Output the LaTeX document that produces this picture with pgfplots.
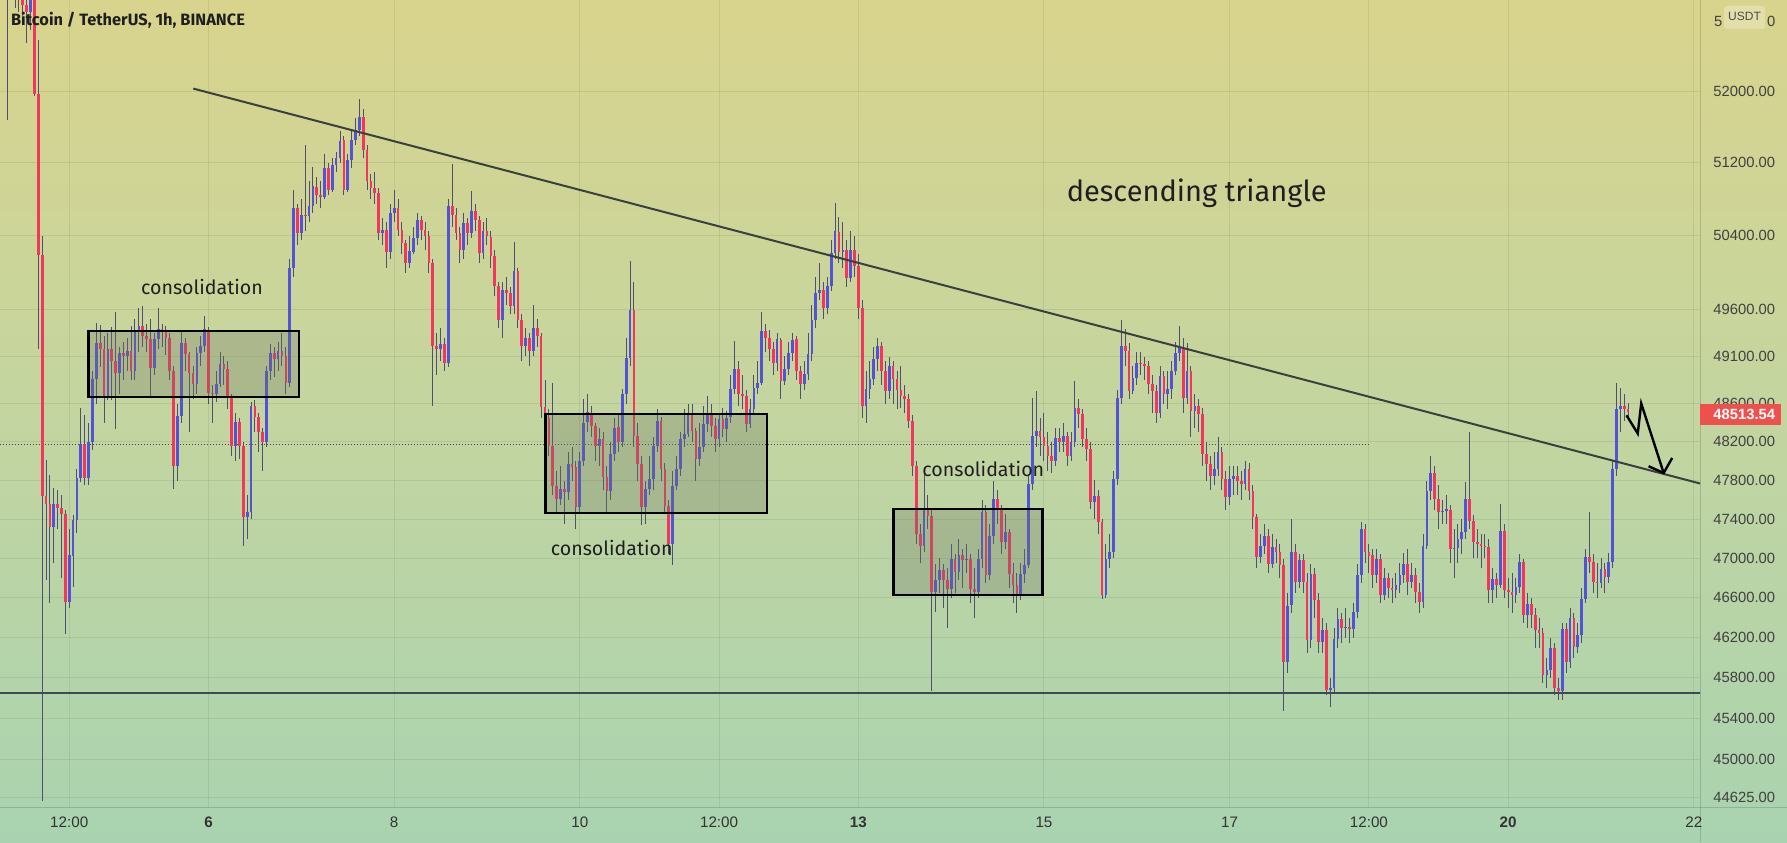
\documentclass[border=0pt]{standalone}
\usepackage{fontspec}
\setmainfont{Fira Sans}
\newfontfamily\axfont{Liberation Sans}
\usepackage{pgfplots}
\usepackage{pgfplotstable}
\pgfplotsset{compat=1.18}
\definecolor{bgtop}{RGB}{217,212,141}
\definecolor{bgmid}{RGB}{195,213,160}
\definecolor{bgbot}{RGB}{169,211,176}
\definecolor{upc}{RGB}{83,83,214}
\definecolor{dnc}{RGB}{241,56,92}
\definecolor{wickc}{RGB}{80,80,110}
\definecolor{linec}{RGB}{58,64,62}
\definecolor{suppc}{RGB}{62,74,86}
\definecolor{lblred}{RGB}{238,80,78}
\definecolor{boxc}{RGB}{110,118,100}

\pgfplotstableread{
t o h l c
-52 53200 53700 51680 53500
-49 53050 53250 52900 53150
-46 52900 53200 52700 53100
-40 47320 47720 46950 47560
-36 46560 47300 46500 47030
-35 47030 47440 46715 47390
-34 47390 47920 47260 47830
-33 47830 48560 47780 48180
-31 47830 48400 47750 48196
-30 48196 48950 48120 48858
-29 48858 49460 48600 49247
-26 48683 49350 48640 49176
-23 48929 49200 48700 49141
-21 49100 49300 48950 49158
-19 48946 49500 48850 49380
-18 49380 49620 49150 49424
-14 48982 49350 48900 49282
-13 49282 49620 49180 49389
-8 47953 48600 47800 48473
-7 48473 49380 48400 49247
-3 48805 49200 48700 49141
-2 49141 49320 49000 49211
-1 49211 49530 49150 49389
2 48700 48950 48620 48805
3 48805 49150 48780 49017
7 48161 48500 48000 48404
10 47421 47650 47200 47472
11 47472 48620 47400 48578
15 48196 49000 48150 48946
16 48946 49230 48850 49141
18 49069 49250 48950 49158
21 48823 50150 48780 50050
22 50050 50900 49950 50704
24 50430 50800 50350 50630
26 50612 51000 50550 50722
27 50722 51150 50650 50940
30 50830 51300 50800 51142
32 50904 51250 50880 51179
33 51179 51320 51100 51253
34 51253 51550 51200 51450
36 50904 51300 50880 51235
37 51235 51580 51150 51455
38 51455 51700 51400 51566
39 51566 51920 51500 51715
45 50430 50600 50300 50466
47 50230 50750 50150 50650
48 50650 50900 50550 50704
52 50104 50400 50050 50230
53 50230 50500 50200 50375
54 50375 50650 50300 50575
60 49176 49400 49050 49229
62 49034 50800 48990 50722
66 50248 50650 50150 50539
68 50430 50885 50380 50668
71 50212 50550 50150 50448
76 49495 49900 49300 49816
79 49637 50339 49550 50014
82 49211 49400 49100 49300
84 49158 49655 49100 49406
91 47609 47950 47550 47712
93 47678 48100 47600 47970
96 47523 48100 47450 48005
97 48005 48650 47950 48404
98 48404 48700 48300 48508
101 48161 48350 47950 48230
104 47695 48200 47600 48074
105 48074 48450 48000 48351
107 48196 48760 48150 48700
108 48700 49300 48600 49087
109 49087 50122 49000 49602
113 47523 47800 47350 47712
114 47712 48050 47650 47815
115 47815 48250 47700 48161
116 48161 48550 48100 48421
120 47149 47900 46930 47746
121 47746 48050 47700 47918
122 47918 48300 47850 48230
123 48230 48550 48150 48282
124 48282 48600 48250 48508
127 48022 48400 47950 48144
128 48144 48580 48100 48386
129 48386 48680 48300 48508
132 48230 48500 48150 48438
134 48334 48520 48200 48456
135 48456 48900 48400 48753
136 48753 49264 48700 48964
140 48386 48650 48350 48543
141 48543 48900 48500 48770
142 48770 49050 48700 48823
143 48823 49580 48800 49371
147 49034 49350 48950 49282
149 48840 49100 48800 48964
150 48964 49250 48900 49141
151 49141 49350 49050 49282
154 48805 49050 48750 48911
155 48911 49350 48850 49123
156 49123 49650 49050 49495
157 49495 49950 49400 49780
158 49780 50100 49700 49816
160 49620 49950 49550 49852
161 49852 50350 49800 50212
162 50212 50758 50150 50448
164 50230 50550 50050 50248
166 49942 50450 49900 50248
170 48578 48950 48400 48753
171 48753 49050 48650 48858
172 48858 49200 48800 49069
173 49069 49300 48950 49211
176 48735 49100 48650 48999
185 47131 47884 47064 47507
188 46661 46950 46460 46778
189 46778 47000 46650 46879
192 46694 47150 46600 46997
194 46862 47200 46780 47031
196 46980 47150 46850 46997
199 46661 47100 46600 46997
200 46997 47600 46900 47472
202 46829 47350 46780 47233
203 47233 47800 47150 47609
206 47165 47450 47100 47268
210 46627 46950 46580 46846
211 46846 47100 46750 46930
212 46930 47850 46900 47764
213 47764 48666 47700 48265
214 48265 48735 48150 48317
219 48005 48350 47950 48247
221 48196 48400 48100 48265
223 48056 48300 48000 48196
224 48196 48840 48150 48561
229 47575 47800 47400 47643
232 46627 47150 46600 46997
233 46997 47250 46900 47064
234 47064 47900 47000 47815
235 47815 48750 47750 48666
236 48666 49495 48600 49211
239 48735 49000 48700 48876
240 48876 49150 48800 49034
246 48508 49000 48450 48893
248 48700 48950 48550 48753
249 48753 49050 48650 48946
250 48946 49250 48900 49141
251 49141 49424 49050 49194
253 48666 49250 48600 48950
255 48526 48700 48350 48578
260 47849 48100 47750 47918
261 47918 48250 47850 48091
264 47626 47950 47550 47815
265 47815 47950 47650 47849
268 47764 48000 47700 47918
272 47014 47250 46950 47131
273 47131 47350 47050 47233
275 46947 47250 46900 47114
279 45961 46650 45850 46526
280 46526 47400 46450 47064
282 46761 47050 46700 46980
285 46177 46950 46100 46846
288 46160 46400 46050 46277
290 45682 45800 45518 45700
291 45700 46300 45650 46193
292 46193 46500 46100 46390
294 46300 46500 46200 46310
296 46290 46550 46200 46460
297 46460 46950 46400 46829
298 46829 47370 46750 47302
302 46829 47100 46750 46997
304 46627 46900 46580 46800
307 46677 46850 46600 46728
308 46728 46950 46650 46829
309 46829 47050 46750 46947
311 46761 46950 46700 46829
314 46560 47250 46500 47131
315 47131 47800 47100 47695
316 47695 48056 47600 47880
319 47472 47600 47350 47480
320 47480 47650 47350 47500
322 47098 47300 46800 47110
323 47110 47350 46950 47200
324 47200 47400 47050 47268
325 47268 47781 47200 47609
332 46677 46900 46550 46795
334 46728 47558 46700 47285
338 46627 46800 46550 46711
339 46711 47050 46650 46964
341 46426 46650 46300 46540
346 45829 46000 45700 45879
347 45879 46200 45800 46094
350 45666 46350 45583 46293
352 45961 46500 45900 46400
354 46110 46350 46050 46226
355 46226 46700 46150 46593
356 46593 47100 46550 47014
360 46750 47000 46700 46896
362 46812 47050 46750 46964
363 46964 48000 46900 47918
364 47918 48823 47850 48543
365 48543 48770 48300 48580
}\upT

\pgfplotstableread{
t o h l c
-51 53500 53650 53150 53250
-50 53250 53350 52950 53050
-48 53150 53250 52850 52980
-47 52980 53100 52550 52900
-45 53100 53200 51950 51975
-44 51975 52580 49180 50195
-43 50195 50400 44600 47640
-42 47640 48010 46780 47560
-41 47560 47860 46550 47320
-39 47560 47700 47300 47520
-38 47520 47650 46800 47450
-37 47450 47500 46240 46560
-32 48180 48480 47750 47830
-28 49247 49440 48990 49176
-27 49176 49320 48400 48683
-25 49176 49420 48640 49052
-24 49052 49580 48334 48929
-22 49141 49250 48850 49100
-20 49158 49430 48850 48946
-17 49424 49640 49200 49318
-16 49318 49450 49150 49282
-15 49282 49500 48680 48982
-12 49389 49450 49200 49371
-11 49371 49420 49120 49300
-10 49300 49350 48850 48946
-9 48946 49000 47712 47953
-6 49247 49300 48950 49123
-5 49123 49150 48300 48929
-4 48929 49000 48650 48805
0 49389 49420 48600 48718
1 48718 48800 48400 48700
4 49017 49100 48800 48964
5 48964 49050 48550 48683
6 48683 48700 48050 48161
8 48404 48450 48020 48161
9 48161 48200 47131 47421
12 48578 48640 48300 48456
13 48456 48500 48100 48300
14 48300 48350 47900 48196
17 49141 49200 48880 49069
19 49158 49350 49000 49105
20 49105 49200 48700 48823
23 50704 50750 50300 50430
25 50630 51400 50450 50612
28 50940 51050 50750 50849
29 50849 51000 50700 50830
31 51142 51200 50850 50904
35 51450 51500 50850 50904
40 51715 51800 51250 51344
41 51344 51400 50900 51000
42 51000 51080 50800 50922
43 50922 51100 50750 50867
44 50867 50920 50350 50430
46 50466 50550 50050 50230
49 50704 50800 50400 50466
50 50466 50550 50200 50321
51 50321 50350 50000 50104
55 50575 50620 50350 50466
56 50466 50550 50250 50393
57 50393 50450 50000 50104
58 50104 50150 48578 49211
59 49211 49350 48900 49176
61 49229 49300 48950 49034
63 50722 51197 50500 50630
64 50630 50700 50350 50430
65 50430 50500 50100 50248
67 50539 50600 50300 50430
69 50668 50750 50450 50575
70 50575 50620 50100 50212
72 50448 50600 50300 50393
73 50393 50450 50050 50176
74 50176 50250 49750 49852
75 49852 49900 49400 49495
77 49816 49950 49650 49780
78 49780 49850 49550 49637
80 50014 50050 49400 49495
81 49495 49550 49050 49211
83 49300 49350 49000 49158
85 49406 49500 49200 49318
86 49318 49350 48450 48561
87 48561 48850 48300 48456
88 48456 48550 48050 48161
89 48161 48823 47650 47746
90 47746 47900 47450 47609
92 47712 47800 47350 47678
94 47970 48150 47800 47936
95 47936 48000 47300 47523
99 48508 48580 48250 48369
100 48369 48400 48000 48161
102 48230 48300 47700 47832
103 47832 47950 47450 47695
106 48351 48500 48100 48196
110 49602 49900 48150 48265
111 48265 48400 47800 47970
112 47970 48050 47340 47523
117 48421 48460 47800 47918
118 47918 47980 47450 47541
119 47541 47600 47048 47149
125 48508 48600 48200 48317
126 48317 48350 47800 48022
130 48508 48600 48250 48369
131 48369 48450 48100 48230
133 48438 48550 48250 48334
137 48964 49050 48580 48700
138 48700 48900 48550 48683
139 48683 48750 48300 48386
144 49371 49450 49150 49300
145 49300 49380 49050 49176
146 49176 49250 48900 49034
148 49282 49300 48650 48840
152 49282 49320 48850 48946
153 48946 49000 48650 48805
159 49816 49900 49500 49620
163 50448 50600 50100 50230
165 50248 50350 49850 49942
167 50248 50400 49950 50068
168 50068 50200 49500 49620
169 49620 49700 48450 48578
174 49211 49250 48800 48946
175 48946 49050 48600 48735
177 48999 49050 48600 48858
178 48858 48950 48550 48750
179 48750 49000 48560 48683
180 48683 48800 48500 48650
181 48650 48700 48350 48421
182 48421 48480 47850 47953
183 47953 48000 47150 47250
184 47250 47350 46950 47131
186 47507 47650 47300 47438
187 47438 47500 45666 46661
190 46879 46950 46500 46780
191 46780 46900 46300 46694
193 46997 47050 46650 46862
195 47031 47100 46700 46980
197 46997 47050 46550 46694
198 46694 46900 46400 46661
201 47472 47550 46750 46829
204 47609 47700 47350 47507
205 47507 47550 47050 47165
207 47268 47300 46700 46846
208 46846 46950 46550 46728
209 46728 46850 46450 46627
215 48317 48450 48050 48247
216 48247 48500 48000 48161
217 48161 48300 47900 48056
218 48056 48200 47880 48005
220 48247 48350 48100 48196
222 48265 48300 47950 48056
225 48561 48650 48350 48491
226 48491 48550 48150 48230
227 48230 48350 48000 48126
228 48126 48200 47510 47575
230 47643 47700 47250 47370
231 47370 47400 46590 46627
237 49211 49400 49000 49158
238 49158 49250 48650 48735
241 49034 49150 48900 49020
242 49020 49100 48850 48999
243 48999 49050 48700 48805
244 48805 48900 48500 48735
245 48735 48800 48400 48508
247 48893 48950 48600 48700
252 49194 49300 48500 48666
254 48950 49000 48250 48526
256 48578 48650 48300 48491
257 48491 48550 47950 48074
258 48074 48200 47800 47970
259 47970 48050 47700 47849
262 48091 48150 47700 47815
263 47815 47900 47500 47626
266 47849 47950 47650 47798
267 47798 47900 47600 47764
269 47918 47980 47600 47695
270 47695 47750 47300 47421
271 47421 47450 46900 47014
274 47233 47300 46850 46947
276 47114 47200 46950 47064
277 47064 47150 46800 46930
278 46930 47000 45469 45961
281 47064 47150 46650 46761
283 46980 47050 46650 46761
284 46761 46850 46050 46177
286 46846 46900 46400 46576
287 46576 46650 46050 46160
289 46277 46350 45632 45682
293 46390 46450 46150 46300
295 46310 46400 46150 46290
299 47302 47350 46950 47064
300 47064 47150 46850 47031
301 47031 47100 46700 46829
303 46997 47050 46550 46627
305 46800 46850 46600 46700
306 46700 46800 46550 46677
310 46947 47098 46627 46761
312 46829 46900 46550 46661
313 46661 46750 46450 46560
317 47880 47950 47500 47609
318 47609 47750 47300 47472
321 47500 47550 46950 47098
326 47609 48300 47300 47387
327 47387 47450 47000 47165
328 47165 47300 47000 47149
329 47149 47250 46900 47131
330 47131 47250 47000 47120
331 47120 47200 46550 46677
333 46795 46850 46600 46728
335 47285 47350 46600 46677
336 46677 46800 46500 46660
337 46660 46850 46450 46627
340 46964 47000 46350 46426
342 46540 46600 46300 46426
343 46426 46500 46100 46277
344 46277 46400 46100 46250
345 46250 46300 45750 45829
348 46094 46150 45630 45698
349 45698 45800 45583 45666
351 46293 46350 45850 45961
353 46400 46450 46000 46110
357 47014 47472 46850 46964
358 46964 47050 46650 46761
359 46761 46950 46600 46750
361 46896 46950 46650 46812
366 48580 48700 48420 48543
367 48543 48610 48460 48513.54
}\dnT

\begin{document}
\begin{tikzpicture}[x=1pt,y=1pt]
\shade[top color=bgtop, bottom color=bgbot, middle color=bgmid] (0,0) rectangle (893.5,421);
\begin{axis}[
  at={(0pt,17.5pt)}, anchor=south west,
  scale only axis, width=850pt, height=403.5pt,
  xmin=-53.9, xmax=385.6,
  % logarithmic price scale: y = ln(price) - 10.7
  ymin=0.004076, ymax=0.178745,
  axis line style={draw=none},
  major tick length=0pt,
  xtick={-36,0,48,96,132,168,216,264,300,336,384},
  xticklabels={12:00,\textbf{6},8,10,12:00,\textbf{13},15,17,12:00,\textbf{20},22},
  ytick={0.006050,0.014418,0.023268,0.032039,0.040735,0.049356,0.057903,0.066378,0.074781,0.083114,0.091379,0.101614,0.111746,0.127747,0.143495,0.158999},
  yticklabels={44625.00,45000.00,45400.00,45800.00,46200.00,46600.00,47000.00,47400.00,47800.00,48200.00,48600.00,49100.00,49600.00,50400.00,51200.00,52000.00},
  yticklabel pos=right,
  grid=major,
  major grid style={draw=black, draw opacity=0.07, line width=0.5pt},
  xticklabel style={anchor=center, yshift=-7.5pt, font=\axfont\fontsize{7.6}{8}\selectfont, text=black!80},
  yticklabel style={anchor=west, xshift=6.5pt, inner sep=0pt, font=\axfont\fontsize{7.4}{8}\selectfont, text=black!75},
  every axis plot/.append style={forget plot},
]
% previous close dotted line
\addplot[draw=black!70, line width=0.5pt, dash pattern=on 0.5pt off 1pt]
  table[row sep=\\, x=x, y expr={ln(\thisrow{y})-10.7}] {x y\\ -54 48172\\ 299.8 48172\\};
% wicks
\addplot[mark=none, draw opacity=0, error bars/.cd, y dir=plus, y explicit, error mark=none,
  error bar style={draw opacity=1, line width=0.5pt, color=wickc}]
  table[x=t, y expr={ln(\thisrow{l})-10.7}, y error plus expr={ln(\thisrow{h}/\thisrow{l})}] {\upT};
\addplot[mark=none, draw opacity=0, error bars/.cd, y dir=plus, y explicit, error mark=none,
  error bar style={draw opacity=1, line width=0.5pt, color=wickc}]
  table[x=t, y expr={ln(\thisrow{l})-10.7}, y error plus expr={ln(\thisrow{h}/\thisrow{l})}] {\dnT};
% bodies
\addplot[mark=none, draw opacity=0, error bars/.cd, y dir=plus, y explicit, error mark=none,
  error bar style={draw opacity=1, line width=1.35pt, line cap=butt, color=upc}]
  table[x=t, y expr={ln(\thisrow{o})-10.7}, y error plus expr={max(ln(\thisrow{c}/\thisrow{o}),0.00017)}] {\upT};
\addplot[mark=none, draw opacity=0, error bars/.cd, y dir=plus, y explicit, error mark=none,
  error bar style={draw opacity=1, line width=1.35pt, line cap=butt, color=dnc}]
  table[x=t, y expr={ln(\thisrow{c})-10.7}, y error plus expr={max(ln(\thisrow{o}/\thisrow{c}),0.00017)}] {\dnT};
% consolidation boxes
\addplot[draw=black, line width=1.3pt, line join=miter, fill=boxc, fill opacity=0.3]
  table[row sep=\\, x=x, y expr={ln(\thisrow{y})-10.7}] {x y\\ -31.08 49373\\ 23.4 49373\\ 23.4 48672\\ -31.08 48672\\ -31.08 49373\\ 23.4 49373\\};
\addplot[draw=black, line width=1.3pt, line join=miter, fill=boxc, fill opacity=0.3]
  table[row sep=\\, x=x, y expr={ln(\thisrow{y})-10.7}] {x y\\ 87.2 48491\\ 144.4 48491\\ 144.4 47466\\ 87.2 47466\\ 87.2 48491\\ 144.4 48491\\};
\addplot[draw=black, line width=1.3pt, line join=miter, fill=boxc, fill opacity=0.3]
  table[row sep=\\, x=x, y expr={ln(\thisrow{y})-10.7}] {x y\\ 177.1 47507\\ 215.6 47507\\ 215.6 46631\\ 177.1 46631\\ 177.1 47507\\ 215.6 47507\\};
% support and trend lines
\addplot[draw=suppc, line width=1pt]
  table[row sep=\\, x=x, y expr={ln(\thisrow{y})-10.7}] {x y\\ -54 45650\\ 386 45650\\};
\addplot[draw=linec, line width=1pt]
  table[row sep=\\, x=x, y expr={ln(\thisrow{y})-10.7}] {x y\\ -3.93 52032\\ 385.7 47768\\};
% zigzag arrow
\addplot[draw=black, line width=1.2pt, line join=miter]
  table[row sep=\\, x=x, y expr={ln(\thisrow{y})-10.7}] {x y\\ 366.6 48480\\ 369.5 48289\\ 370.4 48603\\ 376.2 47878\\};
\addplot[draw=black, line width=1.2pt, line join=miter]
  table[row sep=\\, x=x, y expr={ln(\thisrow{y})-10.7}] {x y\\ 372.3 47948\\ 376.2 47878\\ 378.4 48034\\};
\end{axis}
% panel separators
\draw[black, opacity=0.15, line width=0.5pt] (850pt,0pt) -- (850pt,421pt);
\draw[black, opacity=0.15, line width=0.5pt] (0pt,17.5pt) -- (893.5pt,17.5pt);
% last price label
\fill[lblred] (850pt,208.5pt) rectangle (890.5pt,219pt);
\node[anchor=west, inner sep=0pt, text=white, font=\axfont\bfseries\fontsize{7.4}{8}\selectfont] at (856.5pt,213.75pt) {48513.54};
% top label with USDT
\node[anchor=west, inner sep=0pt, text=black!75, font=\axfont\fontsize{7.4}{8}\selectfont] at (856.8pt,410.2pt) {5};
\node[anchor=west, inner sep=0pt, text=black!75, font=\axfont\fontsize{7.4}{8}\selectfont] at (883.3pt,410.2pt) {0};
\fill[bgtop!75!white, rounded corners=1.5pt] (862pt,406.5pt) rectangle (882.5pt,418pt);
\node[inner sep=0pt, text=black!70, font=\axfont\fontsize{6}{7}\selectfont] at (872.25pt,412.8pt) {USDT};
% title and annotations
\node[anchor=west, inner sep=0pt, text=black!88, font=\bfseries\fontsize{8.2}{10}\selectfont] at (5.35pt,410.65pt) {Bitcoin / TetherUS, 1h, BINANCE};
\node[inner sep=0pt, text=black!88, font=\fontsize{9.8}{12}\selectfont] at (101pt,277.65pt) {consolidation};
\node[inner sep=0pt, text=black!88, font=\fontsize{9.8}{12}\selectfont] at (305.85pt,147pt) {consolidation};
\node[inner sep=0pt, text=black!88, font=\fontsize{9.8}{12}\selectfont] at (491.65pt,186.5pt) {consolidation};
\node[inner sep=0pt, text=black!88, font=\fontsize{14.5}{17}\selectfont] at (598.35pt,324.15pt) {descending triangle};
\pgfresetboundingbox
\path[use as bounding box] (0pt,0pt) rectangle (893.5pt,421pt);
\end{tikzpicture}
\end{document}
